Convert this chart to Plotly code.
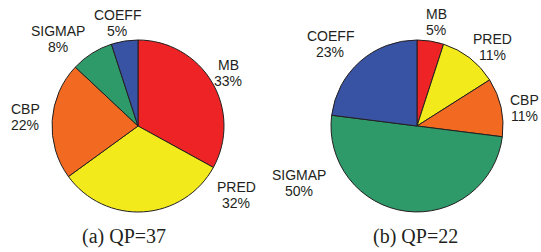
import plotly.graph_objects as go

categories_a = ["MB", "PRED", "CBP", "SIGMAP", "COEFF"]
values_a = [33, 32, 22, 8, 5]
categories_b = ["MB", "PRED", "CBP", "SIGMAP", "COEFF"]
values_b = [5, 11, 11, 50, 23]
captions = ["(a) QP=37", "(b) QP=22"]

colors = {"MB": "#EE2325", "PRED": "#F2EA1B", "CBP": "#F26A22",
          "SIGMAP": "#2F9A69", "COEFF": "#3953A4"}

W, H = 541, 252

# label placement (pixel centres of each label block), layout only
label_pos_a = {"MB": (228, 73), "PRED": (236, 195), "CBP": (25, 117),
               "SIGMAP": (58, 39), "COEFF": (117, 23)}
label_pos_b = {"MB": (436, 22), "PRED": (492, 47), "CBP": (524, 108),
               "SIGMAP": (299, 183), "COEFF": (330, 44)}

def dom(cx, cy, r):
    return dict(x=[(cx - r) / W, (cx + r) / W], y=[1 - (cy + r) / H, 1 - (cy - r) / H])

fig = go.Figure()
for cats, vals, (cx, cy) in [(categories_a, values_a, (138, 126)), (categories_b, values_b, (417, 126))]:
    fig.add_trace(go.Pie(
        labels=cats, values=vals, sort=False, direction="clockwise", rotation=0,
        marker=dict(colors=[colors[c] for c in cats], line=dict(color="#231F20", width=1)),
        textinfo="none", domain=dom(cx, cy, 86), showlegend=False, hoverinfo="skip",
    ))

lab_font = dict(family="Liberation Sans, Arial", size=14, color="#231F20")
for cats, vals, pos in [(categories_a, values_a, label_pos_a), (categories_b, values_b, label_pos_b)]:
    for c, v in zip(cats, vals):
        px, py = pos[c]
        for txt, dy in [(c, -8), (f"{v}%", 8)]:
            fig.add_annotation(text=txt, x=px / W, y=1 - (py + dy) / H, xref="paper", yref="paper",
                               xanchor="center", yanchor="middle", showarrow=False, font=lab_font)

for cap, xc in zip(captions, [124, 415]):
    fig.add_annotation(text=cap, x=xc / W, y=1 - 236 / H, xref="paper", yref="paper",
                       xanchor="center", yanchor="middle", showarrow=False,
                       font=dict(family="Liberation Serif, Times New Roman", size=20, color="#231F20"))

fig.update_layout(width=W, height=H, margin=dict(l=0, r=0, t=0, b=0),
                  paper_bgcolor="white", plot_bgcolor="white")
fig.write_html("out.html", config={"displayModeBar": False},
               post_script="document.body.style.margin='0';document.body.style.overflow='hidden';")
